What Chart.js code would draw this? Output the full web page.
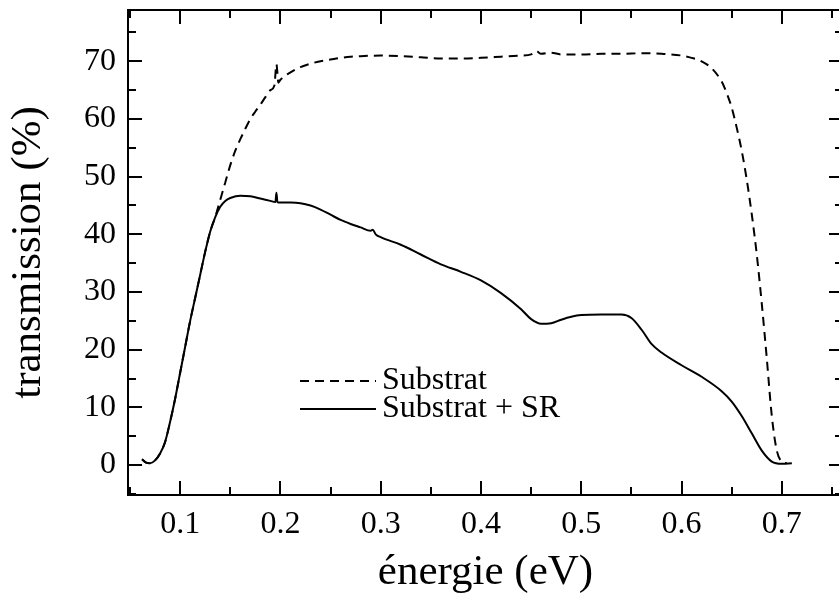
<!DOCTYPE html>
<html>
<head>
<meta charset="utf-8">
<script src="https://cdn.jsdelivr.net/npm/chart.js@4/dist/chart.umd.min.js"></script>
<style>
  html, body { margin: 0; padding: 0; background: #fff; overflow: hidden; }
  #wrap { position: absolute; left: 0; top: 0; width: 845px; height: 594px; }
</style>
</head>
<body>
<div id="wrap"><canvas id="chart"></canvas></div>
<script>
// Substrat (dashed)
const substratE = [0.062, 0.066, 0.07, 0.075, 0.08, 0.085, 0.09, 0.095, 0.1, 0.105, 0.11, 0.115, 0.12, 0.125, 0.13, 0.135,
  0.14, 0.145, 0.15, 0.155, 0.16, 0.165, 0.17, 0.175, 0.18, 0.185, 0.19, 0.194, 0.196, 0.198, 0.2, 0.21, 0.22, 0.23, 0.24,
  0.25, 0.26, 0.27, 0.28, 0.3, 0.32, 0.34, 0.36, 0.38, 0.4, 0.42, 0.44, 0.45, 0.455, 0.46, 0.47, 0.48, 0.5, 0.52, 0.54,
  0.56, 0.58, 0.6, 0.61, 0.62, 0.63, 0.64, 0.645, 0.65, 0.655, 0.66, 0.665, 0.67, 0.675, 0.68, 0.685, 0.69, 0.695, 0.7, 0.705];
const substratT = [1.0, 0.4, 0.3, 0.8, 2.0, 4.0, 7.5, 11.5, 16, 20.5, 25, 29, 33, 37, 40.5, 43,
  46, 49, 52, 54.5, 56.5, 58.3, 60, 61.3, 62.5, 63.8, 65, 65.8, 69.5, 66.3, 66.8, 68.1, 69, 69.6, 70,
  70.3, 70.6, 70.8, 70.9, 71, 70.9, 70.7, 70.5, 70.5, 70.6, 70.8, 71, 71.2, 71.8, 71.3, 71.5, 71.2, 71.2, 71.3, 71.3,
  71.4, 71.3, 71.0, 70.6, 70, 68.8, 66.5, 64.5, 62, 58.5, 54.5, 49.5, 43.5, 36.5, 28, 18.5, 8.5, 2.5, 0.6, 0.3];

// Substrat + SR (solid)
const srE = [0.062, 0.066, 0.07, 0.075, 0.08, 0.085, 0.09, 0.095, 0.1, 0.105, 0.11, 0.115, 0.12, 0.125, 0.13, 0.135,
  0.14, 0.145, 0.15, 0.16, 0.17, 0.18, 0.19, 0.195, 0.196, 0.197, 0.2, 0.21, 0.22, 0.23, 0.24, 0.25, 0.26, 0.27, 0.28,
  0.29, 0.292, 0.295, 0.3, 0.32, 0.34, 0.36, 0.38, 0.4, 0.42, 0.44, 0.45, 0.46, 0.47, 0.48, 0.49, 0.5, 0.52, 0.54,
  0.55, 0.56, 0.57, 0.58, 0.6, 0.62, 0.64, 0.65, 0.66, 0.67, 0.68, 0.69, 0.7, 0.71];
const srT = [1.0, 0.4, 0.3, 0.8, 2.0, 4.0, 7.5, 11.5, 16, 20.5, 25, 29, 33, 37, 40.5, 43,
  44.8, 45.8, 46.3, 46.7, 46.6, 46.2, 45.8, 45.6, 47.2, 45.6, 45.5, 45.5, 45.4, 45, 44.3, 43.4, 42.5, 41.8, 41.2,
  40.6, 40.8, 40.0, 39.5, 38.2, 36.5, 34.8, 33.5, 32, 29.8, 27, 25.3, 24.5, 24.6, 25.2, 25.7, 26, 26.1, 26.1,
  25.5, 23.5, 21, 19.5, 17.3, 15.3, 12.8, 11, 8.5, 5.5, 2.5, 0.6, 0.2, 0.3];

const xTicks = [0.1, 0.2, 0.3, 0.4, 0.5, 0.6, 0.7];
const yTicks = [0, 10, 20, 30, 40, 50, 60, 70];

const serif = "'Liberation Serif', 'Times New Roman', serif";
Chart.defaults.color = '#000';
Chart.defaults.font.family = serif;

const toPoints = (xs, ys) => xs.map((x, i) => ({ x: x, y: ys[i] }));

// cadre + graduations vers l'intérieur, sur les 4 côtés
const framePlugin = {
  id: 'frame',
  afterDatasetsDraw(chart) {
    const { ctx, chartArea: a, scales } = chart;
    ctx.save();
    ctx.strokeStyle = '#000';
    ctx.lineWidth = 2;
    ctx.strokeRect(a.left, a.top, a.right - a.left, a.bottom - a.top);
    const drawTicks = (scale, vals, len, horiz) => {
      vals.forEach(v => {
        if (v < scale.min || v > scale.max) return;
        const p = Math.round(scale.getPixelForValue(v));
        ctx.beginPath();
        if (horiz) {
          ctx.moveTo(p, a.bottom); ctx.lineTo(p, a.bottom - len);
          ctx.moveTo(p, a.top); ctx.lineTo(p, a.top + len);
        } else {
          ctx.moveTo(a.left, p); ctx.lineTo(a.left + len, p);
          ctx.moveTo(a.right, p); ctx.lineTo(a.right - len, p);
        }
        ctx.stroke();
      });
    };
    const minors = (ticks, lo, hi) => {
      const step = ticks[1] - ticks[0];
      const out = [];
      for (let v = ticks[0] - step / 2; v <= hi; v += step) if (v >= lo) out.push(v);
      return out;
    };
    const x = scales.x, y = scales.y;
    drawTicks(x, xTicks, 14, true);
    drawTicks(x, minors(xTicks, x.min, x.max), 8, true);
    drawTicks(y, yTicks, 14, false);
    drawTicks(y, minors(yTicks, y.min, y.max), 8, false);
    ctx.restore();
  }
};

// légende dans le graphe
const legendPlugin = {
  id: 'innerLegend',
  afterDraw(chart) {
    const { ctx } = chart;
    ctx.save();
    ctx.font = '32px ' + serif;
    ctx.fillStyle = '#000';
    ctx.textBaseline = 'middle';
    chart.data.datasets.forEach((ds, i) => {
      const yy = 381 + i * 28;
      ctx.strokeStyle = '#000';
      ctx.lineWidth = 2;
      ctx.setLineDash(ds.borderDash || []);
      ctx.beginPath();
      ctx.moveTo(300, yy);
      ctx.lineTo(376, yy);
      ctx.stroke();
      ctx.setLineDash([]);
      ctx.fillText(ds.label, 382, yy);
    });
    ctx.restore();
  }
};

new Chart(document.getElementById('chart'), {
  type: 'line',
  data: {
    datasets: [{
      label: 'Substrat',
      data: toPoints(substratE, substratT),
      borderColor: '#000',
      borderWidth: 2,
      borderDash: [9, 6],
      pointRadius: 0,
      fill: false,
      cubicInterpolationMode: 'monotone'
    }, {
      label: 'Substrat + SR',
      data: toPoints(srE, srT),
      borderColor: '#000',
      borderWidth: 2,
      pointRadius: 0,
      fill: false,
      cubicInterpolationMode: 'monotone'
    }]
  },
  options: {
    responsive: true,
    maintainAspectRatio: false,
    devicePixelRatio: 1,
    animation: false,
    layout: { padding: { top: 10, right: 2, left: 0, bottom: 0 } },
    plugins: {
      legend: { display: false },
      tooltip: { enabled: false }
    },
    scales: {
      x: {
        type: 'linear',
        min: 0.048,
        max: 0.761,
        grid: { display: false, drawTicks: false },
        border: { display: false },
        afterBuildTicks: s => { s.ticks = xTicks.map(v => ({ value: v })); },
        afterFit: s => { s.height = 99; s.paddingLeft = 0; s.paddingRight = 0; },
        ticks: {
          padding: 10,
          maxRotation: 0,
          font: { size: 32, family: serif },
          callback: v => v.toFixed(1)
        },
        title: {
          display: true,
          text: 'énergie (eV)',
          font: { size: 43, family: serif, lineHeight: 1 },
          padding: { top: 0, bottom: 0 }
        }
      },
      y: {
        type: 'linear',
        min: -5.2,
        max: 78.9,
        grid: { display: false, drawTicks: false },
        border: { display: false },
        afterBuildTicks: s => { s.ticks = yTicks.map(v => ({ value: v })); },
        afterFit: s => { s.width = 128; s.paddingTop = 0; s.paddingBottom = 0; },
        ticks: {
          padding: 12,
          font: { size: 32, family: serif },
          callback: v => String(v)
        },
        title: {
          display: true,
          text: 'transmission (%)',
          font: { size: 43, family: serif, lineHeight: 1 },
          padding: { top: 7, bottom: 0 }
        }
      }
    }
  },
  plugins: [framePlugin, legendPlugin]
});
</script>
</body>
</html>
